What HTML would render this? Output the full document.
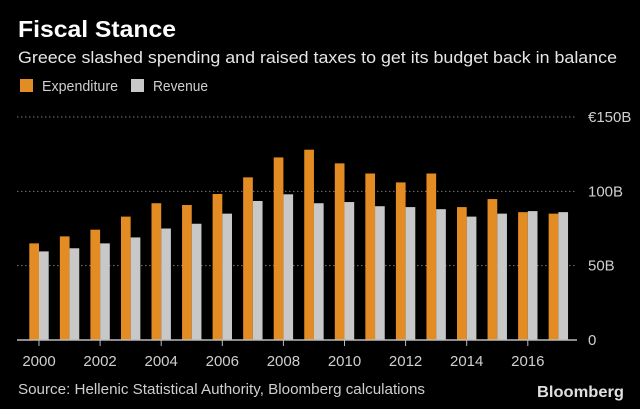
<!DOCTYPE html>
<html><head><meta charset="utf-8"><style>
html,body{margin:0;padding:0;background:#000;}
svg{display:block;font-family:"Liberation Sans",sans-serif;}
</style></head><body>
<svg id="c" width="640" height="409" viewBox="0 0 640 409">
<rect width="640" height="409" fill="#000"/>
<text x="18" y="37" fill="#fff" font-size="23" font-weight="bold" textLength="158" lengthAdjust="spacingAndGlyphs">Fiscal Stance</text>
<text x="18" y="63" fill="#e6e6e6" font-size="17" textLength="599" lengthAdjust="spacingAndGlyphs">Greece slashed spending and raised taxes to get its budget back in balance</text>
<g>
<rect x="20" y="79" width="13" height="13" fill="#e38c24"/>
<text x="42" y="91" fill="#cfcfcf" font-size="15" textLength="76" lengthAdjust="spacingAndGlyphs">Expenditure</text>
<rect x="131" y="79" width="13" height="13" fill="#c8c8c8"/>
<text x="153" y="91" fill="#cfcfcf" font-size="15" textLength="55" lengthAdjust="spacingAndGlyphs">Revenue</text>
</g>
<g id="grid"></g>
<g id="bars"></g>
<g id="axis"></g>
<text x="18" y="394" fill="#cfcfcf" font-size="15" textLength="407" lengthAdjust="spacingAndGlyphs">Source: Hellenic Statistical Authority, Bloomberg calculations</text>
<text x="537" y="397" fill="#e0e0e0" font-size="16" font-weight="bold" textLength="87" lengthAdjust="spacingAndGlyphs">Bloomberg</text>
</svg>
<script>
const years = [2000,2001,2002,2003,2004,2005,2006,2007,2008,2009,2010,2011,2012,2013,2014,2015,2016,2017];
const expenditure = [65,69.7,74.2,83,92,90.8,98.2,109.4,122.8,128,118.8,112,106,112,89.4,94.8,86,85];
const revenue = [59.6,61.7,65,69,75,78.2,85,93.5,98,92,92.8,90,89.4,88,83,85,86.7,86];
const yTicks = [0,50,100,150];
const yTickLabels = ["0","50B","100B","€150B"];
const xTickLabels = ["2000","2002","2004","2006","2008","2010","2012","2014","2016"];

const NS = "http://www.w3.org/2000/svg";
const y0 = 340, pxPer = (340-117)/150;
const yS = v => y0 - v*pxPer;
const x0 = 29.3, step = 30.55, bw = 9.7;
const xS = i => x0 + i*step;
function mk(tag, attrs, parent){const e=document.createElementNS(NS,tag);for(const k in attrs)e.setAttribute(k,attrs[k]);parent.appendChild(e);return e;}
const grid=document.getElementById('grid'), bars=document.getElementById('bars'), axis=document.getElementById('axis');
yTicks.forEach((t,i)=>{
  if(t>0){
    const l=mk('line',{x1:17,x2:577,y1:yS(t),y2:yS(t),stroke:'#777','stroke-width':1,'stroke-dasharray':'1.5,2.5'},grid);
    
    
  }
  const tx=mk('text',{x:588,y:yS(t)+5,fill:'#cfcfcf','font-size':15},grid);
  tx.textContent=yTickLabels[i];
  
  
});
years.forEach((yr,i)=>{
  const e=mk('rect',{x:xS(i),y:yS(expenditure[i]),width:bw,height:y0-yS(expenditure[i]),fill:'#e38c24'},bars);
  
  
  const r=mk('rect',{x:xS(i)+bw,y:yS(revenue[i]),width:bw,height:y0-yS(revenue[i]),fill:'#c8c8c8'},bars);
  
  
});
const ax=mk('line',{x1:17,x2:577,y1:y0,y2:y0,stroke:'#bbb','stroke-width':1.5},axis);


xTickLabels.forEach(lbl=>{
  const i=years.indexOf(+lbl), cx=xS(i)+bw;
  const tk=mk('line',{x1:cx,x2:cx,y1:y0,y2:y0+6,stroke:'#bbb','stroke-width':1},axis);
  
  
  const t=mk('text',{x:cx,y:366,fill:'#cfcfcf','font-size':15,'text-anchor':'middle'},axis);
  t.textContent=lbl;
  
  
});
</script>
</body></html>
